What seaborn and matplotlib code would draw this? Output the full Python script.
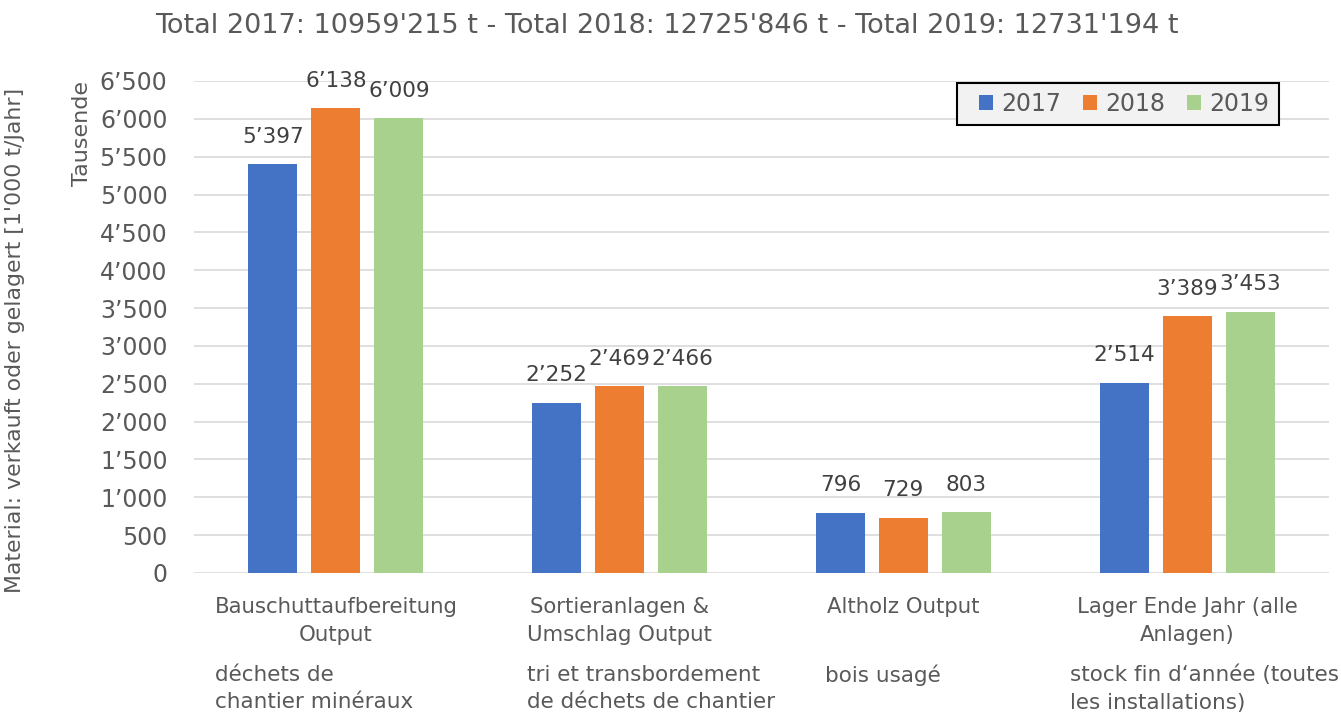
import matplotlib
matplotlib.use("Agg")
import matplotlib.pyplot as plt
import matplotlib.ticker as mticker
from matplotlib.patches import Rectangle
import seaborn as sns
import pandas as pd

categories = ["Bauschuttaufbereitung\nOutput", "Sortieranlagen &\nUmschlag Output",
              "Altholz Output", "Lager Ende Jahr (alle\nAnlagen)"]
french = ["déchets de\nchantier minéraux", "tri et transbordement\nde déchets de chantier",
          "bois usagé", "stock fin d‘année (toutes\nles installations)"]
years = ["2017", "2018", "2019"]
v2017 = [5397, 2252, 796, 2514]
v2018 = [6138, 2469, 729, 3389]
v2019 = [6009, 2466, 803, 3453]
title = "Total 2017: 10959'215 t - Total 2018: 12725'846 t - Total 2019: 12731'194 t"
colors = ["#4472C4", "#ED7D31", "#A9D18E"]

rows = []
for y, vals in zip(years, [v2017, v2018, v2019]):
    for c, v in zip(categories, vals):
        rows.append({"cat": c, "year": y, "val": v})
df = pd.DataFrame(rows)

sns.set_theme(style="white")
plt.rcParams["font.family"] = ["DejaVu Sans"]
grey = "#595959"
dark = "#404040"
W, H = 1341, 720

fig = plt.figure(figsize=(13.41, 7.2), dpi=100)
ax = fig.add_axes([194/W, 1-573/H, (1329-194)/W, (573-81)/H])

sns.barplot(data=df, x="cat", y="val", hue="year", palette=colors, order=categories,
            hue_order=years, width=0.666, gap=0.22, ax=ax, saturation=1, edgecolor="none")

def fmt(v):
    return f"{int(round(v)):,}".replace(",", "\u2019")

for cont in ax.containers:
    ax.bar_label(cont, labels=[fmt(b.get_height()) for b in cont], padding=12.5,
                 fontsize=15.5, color=dark)

ax.set_ylim(0, 6500)
ax.set_yticks(range(0, 6501, 500))
ax.yaxis.set_major_formatter(mticker.FuncFormatter(lambda v, p: fmt(v)))
ax.grid(axis="y", color="#d9d9d9", linewidth=1.2)
ax.set_axisbelow(True)
for s in ax.spines.values():
    s.set_visible(False)
ax.tick_params(axis="x", length=0, labelsize=15.3, colors=grey, pad=17)
ax.tick_params(axis="y", length=0, labelsize=17, colors=grey, pad=19)
for t in ax.get_xticklabels():
    t.set_linespacing(1.5)
ax.set_xlabel("")
ax.set_ylabel("")

fig.text(667/W, 1-26/H, title, ha="center", va="center", fontsize=19.5, color=grey)
fig.text(15/W, 1-340/H, "Material: verkauft oder gelagert [1'000 t/Jahr]",
         rotation=90, ha="center", va="center", fontsize=15.8, color=grey)
fig.text(82/W, 1-134/H, "Tausende", rotation=90, ha="center", va="center",
         fontsize=16, color=grey)

xs = [215, 527, 825, 1070]
for x, t in zip(xs, french):
    fig.text(x/W, 1-665/H, t, ha="left", va="top", fontsize=15.5, color=grey,
             linespacing=1.45)

# legend box (Excel style) and legend entries
ax.add_patch(Rectangle((957/W, 1-125/H), (1279-957)/W, 42/H, transform=fig.transFigure,
                       facecolor="#f2f2f2", edgecolor="black", linewidth=1.5,
                       clip_on=False, zorder=4))
leg = ax.legend(loc="center left", bbox_to_anchor=(979/W, 1-104/H),
                bbox_transform=fig.transFigure, ncol=3, frameon=False, fontsize=17,
                handlelength=0.6, handleheight=0.6, handletextpad=0.34, columnspacing=0.93,
                borderpad=0, borderaxespad=0, labelcolor=grey)
leg.set_zorder(5)
leg.set_title(None)

fig.savefig("out.png", dpi=100)
